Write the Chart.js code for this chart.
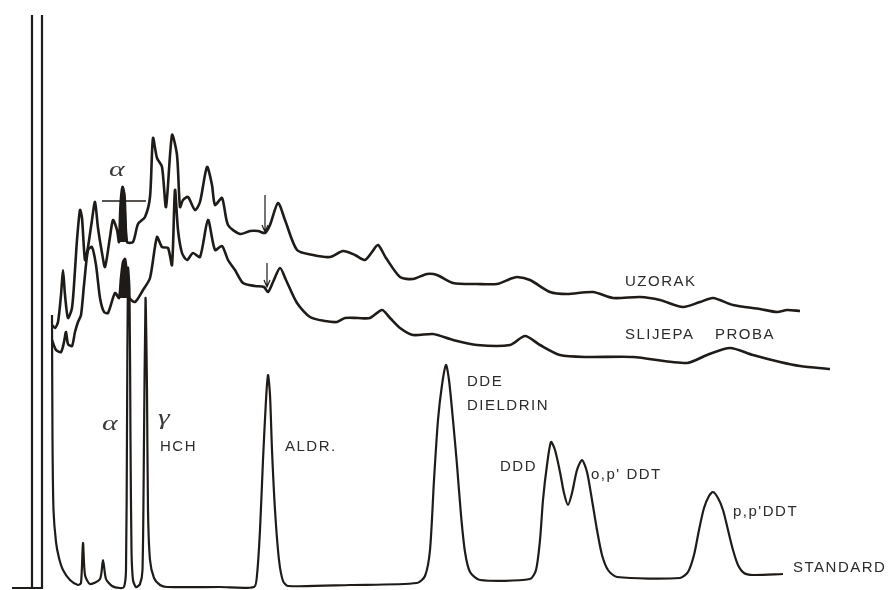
<!DOCTYPE html>
<html lang="hr">
<head>
  <meta charset="UTF-8" />
  <title>Kromatogram - uzorak, slijepa proba, standard</title>
  <script src="https://cdn.jsdelivr.net/npm/chart.js@4.4.1/dist/chart.umd.min.js"></script>
  <style>
    * { margin: 0; padding: 0; box-sizing: border-box; }
    body { background: #ffffff; width: 896px; height: 590px; overflow: hidden; }
    #chart { display: block; }
  </style>
</head>
<body>
  <canvas id="chart" width="896" height="590"></canvas>

  <script>
    // Recorder traces: [retention, detector response]
    const uzorak = [
      [52,265],[55,262],[58,268],[61,295],[63,320],[65,295],[68,272],[72,282],[75,320],[77,350],
      [80,380],[82,372],[85,330],[88,343],[92,370],[95,388],[98,362],[102,337],[105,323],[110,353],
      [113,370],[117,360],[119,348],[120.5,385],[122.5,403],[124.5,395],[127,348],[133,348],[138,366],
      [145,373],[150,393],[153,452],[157,432],[162,423],[166,383],[172,455],[177,435],[180,383],
      [183,390],[188,393],[195,380],[200,388],[207,423],[212,405],[215,385],[222,392],[228,365],
      [240,356],[250,359],[258,359],[265,357],[270,365],[278,387],[285,370],[297,340],[313,335],
      [330,333],[343,339],[355,335],[365,330],[372,338],[378,345],[386,332],[400,313],[413,311],
      [427,316],[437,315],[453,307],[477,306],[497,306],[510,311],[517,313],[530,310],[550,298],
      [567,296],[593,298],[613,292],[640,293],[660,290],[683,283],[700,288],[713,292],[733,285],
      [760,281],[777,278],[787,280],[800,279]
    ];
    const slijepaProba = [
      [52,250],[56,240],[61,238],[64,248],[66,258],[68,246],[72,244],[75,258],[78,268],[81,275],
      [84,305],[88,340],[92,343],[96,325],[100,292],[104,278],[108,277],[115,297],[119,292],
      [121,312],[123,328],[125,331],[127,315],[129,293],[135,288],[143,300],[150,312],[157,353],
      [162,343],[168,342],[172,325],[175,400],[178,360],[182,337],[187,330],[193,337],[200,333],
      [208,370],[215,340],[222,344],[228,330],[235,320],[243,307],[255,304],[264,303],[268,298],
      [273,308],[280,322],[286,310],[297,287],[310,273],[325,269],[337,268],[345,272],[358,272],
      [370,272],[382,280],[390,272],[400,262],[413,255],[433,256],[453,250],[477,245],[510,245],
      [525,254],[540,245],[560,235],[587,233],[633,233],[687,227],[707,235],[730,242],[753,235],
      [780,228],[800,224],[830,221]
    ];
    const standard = [
      [52,275],[52.5,150],[53.5,80],[56,48],[59,32],[63,20],[70,10],[78,5],[81,7],[83,47],[85,15],
      [90,6],[100,11],[103,30],[106,11],[112,4],[120,2],[124,3],[126,20],[127,160],[128,322],
      [129.5,300],[130.5,150],[131.5,40],[133,10],[136,3],[140,6],[142.5,20],[144,150],[145.5,292],
      [147,200],[148,80],[150,30],[154,12],[160,5],[167,3],[220,3],[254,3],[257,15],[260,60],
      [263,130],[266,190],[268,215],[270,195],[272,140],[275,80],[279,30],[283,9],[288,4],[350,5],
      [417,7],[425,14],[430,40],[434,110],[438,170],[442,205],[446,225],[449,210],[453,170],
      [457,125],[461,75],[465,38],[470,18],[480,10],[530,11],[536,20],[540,50],[543,90],[547,125],
      [551,148],[555,140],[560,118],[564,97],[568,85],[572,97],[577,120],[582,130],[587,118],
      [592,90],[597,60],[602,35],[608,20],[617,13],[680,12],[688,18],[694,35],[699,60],[704,82],
      [709,94],[713,98],[718,92],[723,80],[728,60],[733,40],[738,25],[744,17],[753,15],[783,16]
    ];
    // solvent front goes off the paper
    const solvent = [[12,2],[42,2],[42,700],[32,700],[32,2]];
    // blackened alpha-HCH peaks in sample and blank
    const alphaUzorak = [[119,348],[120.5,385],[122.5,403],[124.5,395],[127,348]];
    const alphaSlijepa = [[119,292],[121,312],[123,328],[125,331],[127,315],[129,293]];

    // hand-written annotations
    const labels = [
      { text: 'UZORAK', t: 625, r: 308 },
      { text: 'SLIJEPA', t: 625, r: 255 },
      { text: 'PROBA', t: 715, r: 255 },
      { text: 'DDE', t: 467, r: 208 },
      { text: 'DIELDRIN', t: 467, r: 184 },
      { text: 'DDD', t: 500, r: 123 },
      { text: "o,p' DDT", t: 591, r: 115 },
      { text: "p,p'DDT", t: 733, r: 78 },
      { text: 'STANDARD', t: 793, r: 22 },
      { text: 'ALDR.', t: 285, r: 143 },
      { text: 'HCH', t: 160, r: 143 }
    ];
    const greek = [
      { text: 'α', t: 102, r: 166 },
      { text: 'γ', t: 158, r: 172 },
      { text: 'α', t: 109, r: 420 }
    ];
    const arrows = [[265, 395, 358], [267, 327, 303]];
    const alphaBar = [102, 146, 389];

    const ink = '#1f1b18';
    const toXY = arr => arr.map(p => ({ x: p[0], y: p[1] }));

    function trace(data, width, tension) {
      return {
        data: toXY(data),
        showLine: true,
        borderColor: ink,
        borderWidth: width,
        pointRadius: 0,
        tension: tension,
        fill: false
      };
    }
    function blackPeak(data) {
      return {
        data: toXY(data),
        showLine: true,
        borderColor: ink,
        backgroundColor: ink,
        borderWidth: 1,
        pointRadius: 0,
        tension: 0.3,
        fill: { value: data[0][1] }
      };
    }

    const annotate = {
      id: 'annotate',
      afterDatasetsDraw(chart) {
        const { ctx, scales: { x, y } } = chart;
        ctx.save();
        ctx.fillStyle = '#2b2b2b';
        ctx.textBaseline = 'middle';
        ctx.font = '15px "Liberation Sans", Arial, sans-serif';
        ctx.letterSpacing = '1.5px';
        labels.forEach(l => ctx.fillText(l.text, x.getPixelForValue(l.t), y.getPixelForValue(l.r)));

        ctx.letterSpacing = '0px';
        ctx.font = 'italic 22px "Liberation Serif", serif';
        ctx.fillStyle = '#3a3a3a';
        greek.forEach(g => {
          ctx.save();
          ctx.translate(x.getPixelForValue(g.t), y.getPixelForValue(g.r));
          ctx.scale(1.35, 1);
          ctx.fillText(g.text, 0, 0);
          ctx.restore();
        });

        ctx.strokeStyle = ink;
        ctx.lineWidth = 1.2;
        arrows.forEach(([t, r1, r2]) => {
          const px = x.getPixelForValue(t);
          const y1 = y.getPixelForValue(r1);
          const y2 = y.getPixelForValue(r2);
          ctx.beginPath();
          ctx.moveTo(px, y1);
          ctx.lineTo(px, y2);
          ctx.moveTo(px - 3, y2 - 7);
          ctx.lineTo(px, y2);
          ctx.lineTo(px + 3, y2 - 7);
          ctx.stroke();
        });

        ctx.lineWidth = 1.5;
        ctx.beginPath();
        ctx.moveTo(x.getPixelForValue(alphaBar[0]), y.getPixelForValue(alphaBar[2]));
        ctx.lineTo(x.getPixelForValue(alphaBar[1]), y.getPixelForValue(alphaBar[2]));
        ctx.stroke();
        ctx.restore();
      }
    };

    new Chart(document.getElementById('chart'), {
      type: 'scatter',
      data: {
        datasets: [
          blackPeak(alphaUzorak),
          blackPeak(alphaSlijepa),
          trace(solvent, 2.2, 0),
          trace(standard, 2.2, 0.25),
          trace(slijepaProba, 2.6, 0.25),
          trace(uzorak, 2.6, 0.25)
        ]
      },
      options: {
        responsive: false,
        animation: false,
        layout: { padding: { top: 15, left: 0, right: 0, bottom: 0 } },
        scales: {
          x: { type: 'linear', min: 0, max: 896, display: false },
          y: { type: 'linear', min: 0, max: 575, display: false }
        },
        plugins: {
          legend: { display: false },
          tooltip: { enabled: false }
        }
      },
      plugins: [annotate]
    });
  </script>
</body>
</html>
